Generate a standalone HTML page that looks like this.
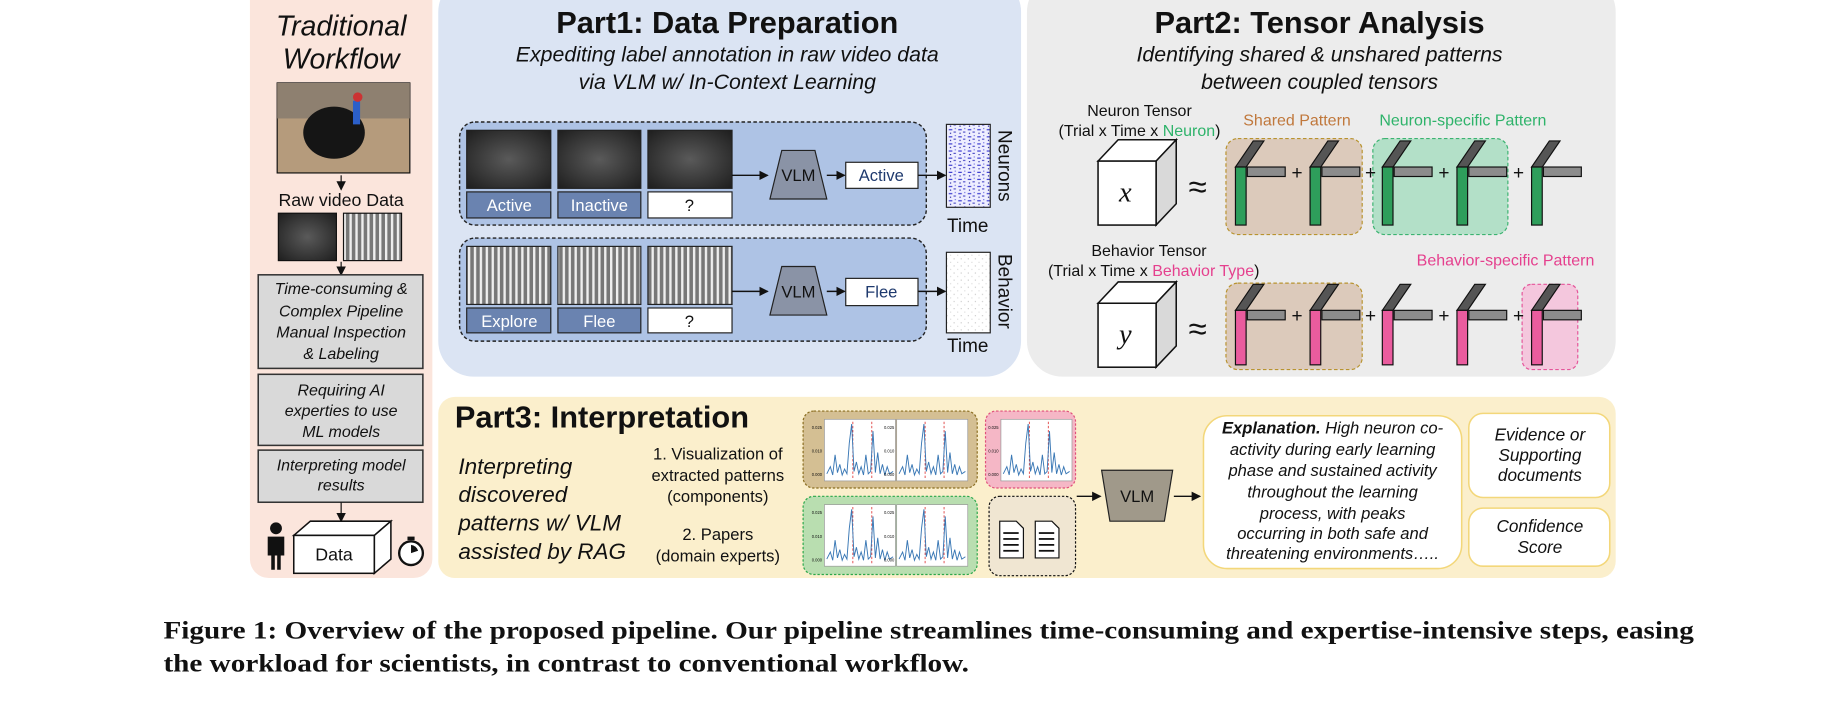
<!DOCTYPE html>
<html><head><meta charset="utf-8"><style>
html,body{margin:0;padding:0;background:#fff;width:1836px;height:717px;overflow:hidden}
svg{display:block}
text{font-family:"Liberation Sans",sans-serif;fill:#111}
.it{font-style:italic}
.b{font-weight:bold}
</style></head><body>
<svg width="1836" height="717" viewBox="0 0 1550 605.3" xmlns="http://www.w3.org/2000/svg">
<defs>
<radialGradient id="dk" cx="50%" cy="50%" r="70%"><stop offset="0" stop-color="#5a5a5a"/><stop offset="1" stop-color="#1e1e1e"/></radialGradient>
<linearGradient id="lt" x1="0" x2="0" y1="0" y2="1"><stop offset="0" stop-color="#eee"/><stop offset="0.5" stop-color="#999"/><stop offset="1" stop-color="#333"/></linearGradient>
<pattern id="stripes" width="5" height="10" patternUnits="userSpaceOnUse"><rect width="5" height="10" fill="#777"/><rect width="2" height="10" fill="#eee"/></pattern>
<pattern id="noise" width="8" height="6" patternUnits="userSpaceOnUse"><rect width="8" height="6" fill="#eef"/><rect x="1" y="1" width="3" height="1" fill="#3a3ad0"/><rect x="5" y="3" width="2" height="1" fill="#5050c8"/><rect x="2" y="4" width="1" height="1" fill="#2020a0"/><rect x="6" y="0" width="1" height="1" fill="#7070e0"/></pattern>
<pattern id="dots" width="6" height="6" patternUnits="userSpaceOnUse"><rect width="6" height="6" fill="#fff"/><rect x="1" y="2" width="1" height="1" fill="#ccc"/><rect x="4" y="5" width="1" height="1" fill="#ddd"/></pattern>
<marker id="ah" markerWidth="8" markerHeight="8" refX="7" refY="4" orient="auto" markerUnits="userSpaceOnUse"><path d="M0,0 L8,4 L0,8 z" fill="#111"/></marker>
<g id="cg"><polygon points="0,0 9,0 24,-22 15,-22" fill="#555" stroke="#111" stroke-width="1"/><rect x="10" y="0" width="32" height="8" fill="#8c8c8c" stroke="#111"/><rect x="0" y="0" width="9" height="49" fill="#2e9e5b" stroke="#111"/></g>
<g id="cp"><polygon points="0,0 9,0 24,-22 15,-22" fill="#555" stroke="#111" stroke-width="1"/><rect x="10" y="0" width="32" height="8" fill="#8c8c8c" stroke="#111"/><rect x="0" y="0" width="9" height="46" fill="#ea5c9e" stroke="#111"/></g>
<g id="ch"><rect x="0" y="0" width="60" height="52" fill="#fff" stroke="#999" stroke-width="0.6"/><line x1="24" y1="2" x2="24" y2="50" stroke="#d33" stroke-dasharray="2,1.5" stroke-width="0.7"/><line x1="40" y1="2" x2="40" y2="50" stroke="#d33" stroke-dasharray="2,1.5" stroke-width="0.7"/><polyline fill="none" stroke="#3a78b5" stroke-width="0.8" points="2,46 5,40 7,47 9,30 11,45 13,38 15,47 17,42 19,46 21,20 23,4 25,44 27,36 29,46 31,40 33,47 35,30 37,46 39,44 41,10 43,45 45,28 47,46 49,38 51,47 53,40 55,46 58,44"/><text x="-2" y="8" font-size="3.5" text-anchor="end">0.025</text><text x="-2" y="28" font-size="3.5" text-anchor="end">0.010</text><text x="-2" y="48" font-size="3.5" text-anchor="end">0.000</text></g>
</defs>

<!-- Traditional workflow -->
<rect x="211" y="-20" width="154" height="508" rx="16" fill="#fbe5dc"/>
<text x="288" y="30" font-size="24" text-anchor="middle" class="it">Traditional</text>
<text x="288" y="58" font-size="24" text-anchor="middle" class="it">Workflow</text>
<rect x="234" y="70" width="112" height="76" fill="#b59b7c" stroke="#111"/>
<rect x="234" y="70" width="112" height="30" fill="#8e8070"/>
<ellipse cx="282" cy="112" rx="26" ry="22" fill="#151515"/>
<rect x="298" y="85" width="6" height="20" fill="#2b5fc9"/><circle cx="302" cy="82" r="4" fill="#c33"/>
<line x1="288" y1="148" x2="288" y2="160" stroke="#111" marker-end="url(#ah)"/>
<text x="288" y="174" font-size="15" text-anchor="middle">Raw video Data</text>
<rect x="235" y="180" width="49" height="40" fill="url(#dk)" stroke="#111"/>
<rect x="290" y="180" width="49" height="40" fill="url(#stripes)" stroke="#111"/>
<line x1="288" y1="221" x2="288" y2="232" stroke="#111" marker-end="url(#ah)"/>
<rect x="218" y="232" width="139" height="79" fill="#d9d9d9" stroke="#333" stroke-width="1.3"/>
<g font-size="13.5" text-anchor="middle" class="it"><text x="288" y="248" class="it">Time-consuming &amp;</text><text x="288" y="267" class="it">Complex Pipeline</text><text x="288" y="285" class="it">Manual Inspection</text><text x="288" y="303" class="it">&amp; Labeling</text></g>
<rect x="218" y="316" width="139" height="60" fill="#d9d9d9" stroke="#333" stroke-width="1.3"/>
<g font-size="13.5" text-anchor="middle"><text x="288" y="334" class="it">Requiring AI</text><text x="288" y="351" class="it">experties to use</text><text x="288" y="369" class="it">ML models</text></g>
<rect x="218" y="380" width="139" height="44" fill="#d9d9d9" stroke="#333" stroke-width="1.3"/>
<g font-size="13.5" text-anchor="middle"><text x="288" y="397" class="it">Interpreting model</text><text x="288" y="414" class="it">results</text></g>
<line x1="288" y1="424" x2="288" y2="440" stroke="#111" marker-end="url(#ah)"/>
<polygon points="248,452 262,440 330,440 316,452" fill="#fff" stroke="#111" stroke-width="1.3"/>
<polygon points="316,452 330,440 330,472 316,484" fill="#fff" stroke="#111" stroke-width="1.3"/>
<rect x="248" y="452" width="68" height="32" fill="#fff" stroke="#111" stroke-width="1.3"/>
<text x="282" y="473" font-size="15" text-anchor="middle">Data</text>
<circle cx="233" cy="446" r="5" fill="#111"/><path d="M226,453 h14 v16 h-3 v12 h-3 v-12 h-2 v12 h-3 v-12 h-3z" fill="#111"/>
<circle cx="347" cy="467" r="10" fill="#fff" stroke="#111" stroke-width="2"/><rect x="344" y="453" width="6" height="3" fill="#111"/><path d="M347,467 L347,460 A7,7 0 0 1 353,465z" fill="#111"/>

<!-- Part1 -->
<rect x="370" y="-20" width="492" height="338" rx="30" fill="#dbe4f3"/>
<text x="614" y="28" font-size="26" text-anchor="middle" class="b">Part1: Data Preparation</text>
<text x="614" y="52" font-size="18" text-anchor="middle" class="it">Expediting label annotation in raw video data</text>
<text x="614" y="75" font-size="18" text-anchor="middle" class="it">via VLM w/ In-Context Learning</text>
<rect x="388" y="103" width="394" height="87" rx="13" fill="#aec3e5" stroke="#222" stroke-dasharray="3,2" stroke-width="1.2"/>
<rect x="388" y="201" width="394" height="87" rx="13" fill="#aec3e5" stroke="#222" stroke-dasharray="3,2" stroke-width="1.2"/>
<g stroke="#222"><rect x="394" y="110" width="71" height="49" fill="url(#dk)"/><rect x="471" y="110" width="70" height="49" fill="url(#dk)"/><rect x="547" y="110" width="71" height="49" fill="url(#dk)"/>
<rect x="394" y="208" width="71" height="49" fill="url(#stripes)"/><rect x="471" y="208" width="70" height="49" fill="url(#stripes)"/><rect x="547" y="208" width="71" height="49" fill="url(#stripes)"/>
<rect x="394" y="162" width="71" height="22" fill="#6a83b0"/><rect x="471" y="162" width="70" height="22" fill="#6a83b0"/><rect x="547" y="162" width="71" height="22" fill="#fff"/>
<rect x="394" y="260" width="71" height="21" fill="#6a83b0"/><rect x="471" y="260" width="70" height="21" fill="#6a83b0"/><rect x="547" y="260" width="71" height="21" fill="#fff"/></g>
<g font-size="14" text-anchor="middle"><text x="430" y="178" style="fill:#fff">Active</text><text x="506" y="178" style="fill:#fff">Inactive</text><text x="582" y="178">?</text>
<text x="430" y="276" style="fill:#fff">Explore</text><text x="506" y="276" style="fill:#fff">Flee</text><text x="582" y="276">?</text></g>
<polygon points="660,127 688,127 698,168 650,168" fill="#8a93a6" stroke="#222"/>
<polygon points="660,225 688,225 698,266 650,266" fill="#8a93a6" stroke="#222"/>
<text x="674" y="153" font-size="14" text-anchor="middle">VLM</text><text x="674" y="251" font-size="14" text-anchor="middle">VLM</text>
<g stroke="#111" stroke-width="1.2"><line x1="618" y1="148" x2="648" y2="148" marker-end="url(#ah)"/><line x1="698" y1="148" x2="713" y2="148" marker-end="url(#ah)"/><line x1="775" y1="148" x2="798" y2="148" marker-end="url(#ah)"/>
<line x1="618" y1="246" x2="648" y2="246" marker-end="url(#ah)"/><line x1="698" y1="246" x2="713" y2="246" marker-end="url(#ah)"/><line x1="775" y1="246" x2="798" y2="246" marker-end="url(#ah)"/></g>
<rect x="714" y="137" width="61" height="22" fill="#fff" stroke="#222"/><text x="744" y="153" font-size="14" text-anchor="middle" style="fill:#1f3a6e">Active</text>
<rect x="714" y="235" width="61" height="23" fill="#fff" stroke="#222"/><text x="744" y="251" font-size="14" text-anchor="middle" style="fill:#1f3a6e">Flee</text>
<rect x="799" y="105" width="37" height="70" fill="url(#noise)" stroke="#222"/>
<rect x="799" y="213" width="37" height="68" fill="url(#dots)" stroke="#222"/>
<text x="817" y="196" font-size="16" text-anchor="middle">Time</text><text x="817" y="297" font-size="16" text-anchor="middle">Time</text>
<text transform="translate(843,140) rotate(90)" font-size="16" text-anchor="middle">Neurons</text>
<text transform="translate(843,246) rotate(90)" font-size="16" text-anchor="middle">Behavior</text>

<!-- Part2 -->
<rect x="867" y="-20" width="497" height="338" rx="30" fill="#ececec"/>
<text x="1114" y="28" font-size="26" text-anchor="middle" class="b">Part2: Tensor Analysis</text>
<text x="1114" y="52" font-size="18" text-anchor="middle" class="it">Identifying shared &amp; unshared patterns</text>
<text x="1114" y="75" font-size="18" text-anchor="middle" class="it">between coupled tensors</text>
<text x="962" y="98" font-size="13.5" text-anchor="middle">Neuron Tensor</text>
<text x="962" y="115" font-size="13.5" text-anchor="middle">(Trial x Time x <tspan style="fill:#2eb36a">Neuron</tspan>)</text>
<text x="970" y="216" font-size="13.5" text-anchor="middle">Behavior Tensor</text>
<text x="974" y="233" font-size="13.5" text-anchor="middle">(Trial x Time x <tspan style="fill:#e5408e">Behavior Type</tspan>)</text>
<g stroke="#111" stroke-width="1.3">
<polygon points="927,136 944,118 993,118 976,136" fill="#fff"/><polygon points="976,136 993,118 993,172 976,190" fill="#d9d9d9"/><rect x="927" y="136" width="49" height="54" fill="#fff"/>
<polygon points="927,256 944,238 993,238 976,256" fill="#fff"/><polygon points="976,256 993,238 993,292 976,310" fill="#d9d9d9"/><rect x="927" y="256" width="49" height="54" fill="#fff"/></g>
<text x="950" y="170" font-size="24" text-anchor="middle" font-family="Liberation Serif" class="it" style="font-family:'Liberation Serif',serif">x</text>
<text x="950" y="290" font-size="24" text-anchor="middle" class="it" style="font-family:'Liberation Serif',serif">y</text>
<text x="1011" y="167" font-size="28" text-anchor="middle">≈</text><text x="1011" y="287" font-size="28" text-anchor="middle">≈</text>
<text x="1095" y="106" font-size="13.5" text-anchor="middle" style="fill:#c0783c">Shared Pattern</text>
<text x="1235" y="106" font-size="13.5" text-anchor="middle" style="fill:#2eb36a">Neuron-specific Pattern</text>
<text x="1271" y="224" font-size="13.5" text-anchor="middle" style="fill:#e5408e">Behavior-specific Pattern</text>
<rect x="1035" y="117" width="115" height="81" rx="10" fill="#dccabb" stroke="#b8932f" stroke-dasharray="3,2"/>
<rect x="1159" y="117" width="114" height="81" rx="10" fill="#b3e0c8" stroke="#3cb371" stroke-dasharray="3,2"/>
<rect x="1035" y="239" width="115" height="73" rx="10" fill="#dccabb" stroke="#b8932f" stroke-dasharray="3,2"/>
<rect x="1285" y="240" width="47" height="72" rx="8" fill="#f4c7dd" stroke="#e5559a" stroke-dasharray="3,2"/>
<use href="#cg" x="1043" y="141"/><use href="#cg" x="1106" y="141"/><use href="#cg" x="1167" y="141"/><use href="#cg" x="1230" y="141"/><use href="#cg" x="1293" y="141"/>
<use href="#cp" x="1043" y="262"/><use href="#cp" x="1106" y="262"/><use href="#cp" x="1167" y="262"/><use href="#cp" x="1230" y="262"/><use href="#cp" x="1293" y="262"/>
<g font-size="16" text-anchor="middle"><text x="1095" y="151">+</text><text x="1157" y="151">+</text><text x="1219" y="151">+</text><text x="1282" y="151">+</text>
<text x="1095" y="272">+</text><text x="1157" y="272">+</text><text x="1219" y="272">+</text><text x="1282" y="272">+</text></g>

<!-- Part3 -->
<rect x="370" y="335" width="994" height="153" rx="14" fill="#fbefcc"/>
<text x="384" y="361" font-size="26" class="b">Part3: Interpretation</text>
<g font-size="19" class="it"><text x="387" y="400" class="it">Interpreting</text><text x="387" y="424" class="it">discovered</text><text x="387" y="448" class="it">patterns w/ VLM</text><text x="387" y="472" class="it">assisted by RAG</text></g>
<g font-size="14" text-anchor="middle"><text x="606" y="388">1.  Visualization of</text><text x="606" y="406">extracted patterns</text><text x="606" y="424">(components)</text><text x="606" y="456">2. Papers</text><text x="606" y="474">(domain experts)</text></g>
<rect x="678" y="347" width="147" height="65" rx="9" fill="#d4bf93" stroke="#8a6d1f" stroke-dasharray="2,1.5"/>
<rect x="832" y="347" width="76" height="65" rx="9" fill="#f5b7c6" stroke="#e0507a" stroke-dasharray="2,1.5"/>
<rect x="678" y="419" width="147" height="66" rx="9" fill="#b9deb0" stroke="#2aa84a" stroke-dasharray="2,1.5"/>
<rect x="835" y="419" width="73" height="67" rx="9" fill="#f0e6d2" stroke="#111" stroke-dasharray="2,1.5"/>
<use href="#ch" x="696" y="354"/><use href="#ch" x="757" y="354" /><use href="#ch" x="845" y="354"/>
<use href="#ch" x="696" y="426"/><use href="#ch" x="757" y="426"/>
<g stroke="#111" fill="#fff"><path d="M844,440 h14 l6,6 v25 h-20z"/><path d="M874,440 h14 l6,6 v25 h-20z"/></g>
<g stroke="#111" stroke-width="1.5"><line x1="847" y1="450" x2="860" y2="450"/><line x1="847" y1="455" x2="860" y2="455"/><line x1="847" y1="460" x2="860" y2="460"/><line x1="847" y1="465" x2="860" y2="465"/>
<line x1="877" y1="450" x2="890" y2="450"/><line x1="877" y1="455" x2="890" y2="455"/><line x1="877" y1="460" x2="890" y2="460"/><line x1="877" y1="465" x2="890" y2="465"/></g>
<polygon points="930,397 990,397 983,440 937,440" fill="#a0998a" stroke="#222"/>
<text x="960" y="424" font-size="14" text-anchor="middle">VLM</text>
<line x1="909" y1="419" x2="929" y2="419" stroke="#111" stroke-width="1.2" marker-end="url(#ah)"/>
<line x1="991" y1="419" x2="1013" y2="419" stroke="#111" stroke-width="1.2" marker-end="url(#ah)"/>
<rect x="1016" y="351" width="218" height="129" rx="20" fill="#fff" stroke="#f3d77a" stroke-width="1.3"/>
<g font-size="14" text-anchor="middle"><text x="1125" y="366" class="it"><tspan class="b it">Explanation.</tspan> High neuron co-</text>
<text x="1125" y="384" class="it">activity during early learning</text><text x="1125" y="402" class="it">phase and sustained activity</text><text x="1125" y="420" class="it">throughout the learning</text><text x="1125" y="438" class="it">process, with peaks</text><text x="1125" y="455" class="it">occurring in both safe and</text><text x="1125" y="472" class="it">threatening environments…..</text></g>
<rect x="1240" y="349" width="119" height="71" rx="12" fill="#fff" stroke="#f3d77a" stroke-width="1.3"/>
<rect x="1240" y="429" width="119" height="49" rx="12" fill="#fff" stroke="#f3d77a" stroke-width="1.3"/>
<g font-size="14.5" text-anchor="middle"><text x="1300" y="372" class="it">Evidence or</text><text x="1300" y="389" class="it">Supporting</text><text x="1300" y="406" class="it">documents</text><text x="1300" y="449" class="it">Confidence</text><text x="1300" y="467" class="it">Score</text></g>

<!-- caption -->
<text x="138" y="539" font-size="21" font-weight="bold" textLength="1292" lengthAdjust="spacingAndGlyphs" style="font-family:'Liberation Serif',serif">Figure 1: Overview of the proposed pipeline. Our pipeline streamlines time-consuming and expertise-intensive steps, easing</text>
<text x="138" y="567" font-size="21" font-weight="bold" textLength="680" lengthAdjust="spacingAndGlyphs" style="font-family:'Liberation Serif',serif">the workload for scientists, in contrast to conventional workflow.</text>
</svg>
</body></html>
